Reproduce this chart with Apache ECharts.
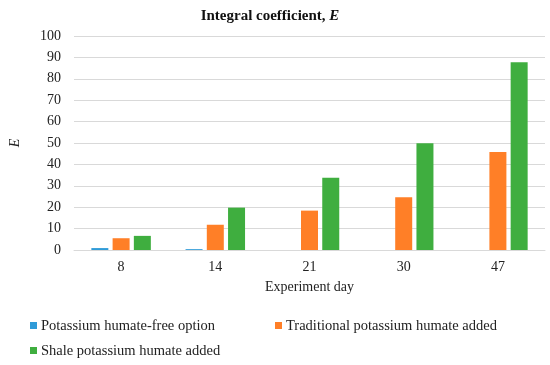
<!DOCTYPE html>
<html>
<head>
<meta charset="utf-8">
<script src="https://cdn.jsdelivr.net/npm/echarts@6/dist/echarts.min.js"></script>
<style>html,body{margin:0;padding:0;background:#fff}#c{width:550px;height:365px}</style>
</head>
<body>
<div id="c"></div>
<script>
const categories = ['8', '14', '21', '30', '47'];
const seriesNames = ['Potassium humate-free option', 'Traditional potassium humate added', 'Shale potassium humate added'];
const freeOption = [0.9, 0.4, 0, 0, 0];
const traditional = [5.5, 11.8, 18.4, 24.7, 45.8];
const shale = [6.6, 19.8, 33.8, 49.9, 87.7];
const colors = ['#2f9bd8', '#ff7f27', '#3fae3f'];
const FONT = 'Liberation Serif';

// legend layout (swatch x, row center y)
const legendPos = [[30, 326], [275, 326], [30, 351]];
const legendSwatches = [];
const legendTitles = [];
seriesNames.forEach(function (n, i) {
  const p = legendPos[i];
  legendSwatches.push({ type: 'rect', left: p[0], top: p[1] - 4, shape: { width: 7, height: 7 }, style: { fill: colors[i] } });
  legendTitles.push({
    text: '{n|' + n + '}', left: p[0] + 11, top: p[1] - 9, padding: 0,
    textStyle: {
      fontFamily: FONT,
      rich: { n: { fontFamily: FONT, fontSize: 14.5, fontWeight: 'normal', lineHeight: 18, color: '#222' } }
    }
  });
});

const chart = echarts.init(document.getElementById('c'));
chart.setOption({
  animation: false,
  textStyle: { fontFamily: FONT },
  title: [{
    text: '{b|Integral coefficient, }{i|E}',
    left: 265, textAlign: 'center', top: 4,
    textStyle: {
      fontFamily: FONT,
      rich: {
        b: { fontFamily: FONT, fontSize: 15, fontWeight: 'bold', color: '#111' },
        i: { fontFamily: FONT, fontSize: 15, fontWeight: 'bold', fontStyle: 'italic', color: '#111' }
      }
    }
  }].concat(legendTitles),
  graphic: legendSwatches,
  grid: { left: 67, right: 5, top: 36, bottom: 115 },
  xAxis: {
    type: 'category', data: categories,
    name: 'Experiment day', nameLocation: 'middle', nameGap: 30,
    nameTextStyle: { fontFamily: FONT, fontSize: 14, color: '#222' },
    axisTick: { show: false },
    axisLine: { lineStyle: { color: '#d9d9d9' } },
    axisLabel: { fontFamily: FONT, fontSize: 14, color: '#222', margin: 10 }
  },
  yAxis: {
    type: 'value', min: 0, max: 100, interval: 10,
    name: 'E', nameLocation: 'middle', nameGap: 52, nameRotate: 90,
    nameTextStyle: { fontFamily: FONT, fontSize: 14, fontStyle: 'italic', color: '#222' },
    axisLine: { show: false }, axisTick: { show: false },
    splitLine: { lineStyle: { color: '#d9d9d9' } },
    axisLabel: { fontFamily: FONT, fontSize: 14, color: '#222', margin: 13 }
  },
  series: [
    { name: seriesNames[0], type: 'bar', data: freeOption, barWidth: 17, barGap: '25%', itemStyle: { color: colors[0] } },
    { name: seriesNames[1], type: 'bar', data: traditional, barWidth: 17, barGap: '25%', itemStyle: { color: colors[1] } },
    { name: seriesNames[2], type: 'bar', data: shale, barWidth: 17, barGap: '25%', itemStyle: { color: colors[2] } }
  ]
});
</script>
</body>
</html>
